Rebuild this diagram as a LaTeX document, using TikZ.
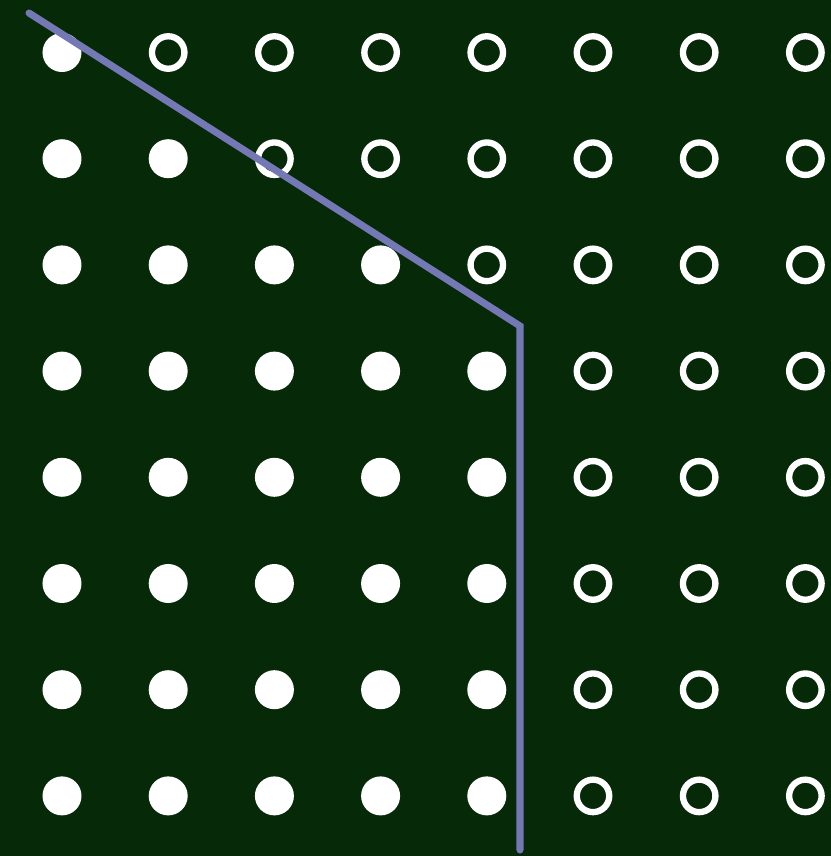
\documentclass[tikz,border=0pt]{standalone}
\usetikzlibrary{positioning}
\definecolor{boardgreen}{HTML}{062908}
\definecolor{cutblue}{HTML}{7479B5}
\tikzset{
    fulldot/.style={circle, fill=white, inner sep=0pt, minimum size=0.39cm},
    emptydot/.style={circle, draw=white, line width=1.8pt, inner sep=0pt, minimum size=0.325cm},
    cutline/.style={draw=cutblue, line width=2pt, line cap=round, line join=miter}
}

\begin{document}
\begin{tikzpicture}
\fill[boardgreen] (0,0) rectangle (8.31,8.56);
\useasboundingbox (0,0) rectangle (8.31,8.56);
% how many full dots in each row, top to bottom
\foreach \r/\n in {0/1,1/2,2/4,3/5,4/5,5/5,6/5,7/5} {
    \foreach \c in {0,...,7} {
        \pgfmathtruncatemacro{\isfull}{\c<\n ? 1 : 0}
        \ifnum\isfull=1
            \node[fulldot] (d-\r-\c) at ({0.62+1.062*\c},{8.035-1.062*\r}) {};
        \else
            \node[emptydot] (d-\r-\c) at ({0.62+1.062*\c},{8.035-1.062*\r}) {};
        \fi
    }
}
\coordinate (cut-start) at (0.29,8.43);
\coordinate (cut-bend) at (5.20,5.30);
\coordinate (cut-end) at (5.20,0.06);
\draw[cutline] (cut-start) -- (cut-bend) -- (cut-end);
\end{tikzpicture}
\end{document}
